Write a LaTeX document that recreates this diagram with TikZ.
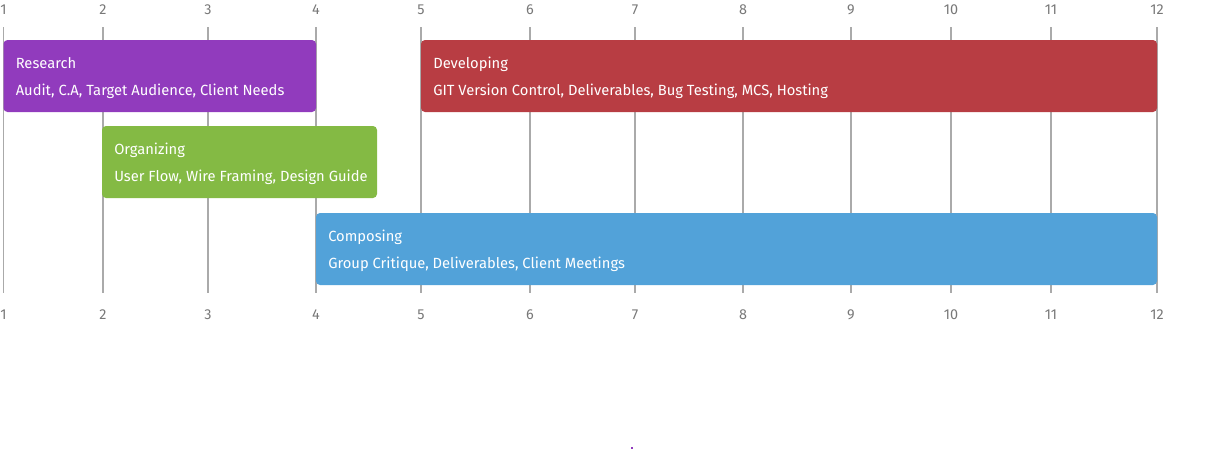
\documentclass[tikz,border=0pt]{standalone}
\usepackage{fontspec}
\setmainfont{Fira Sans}
\usepackage{xcolor}
\definecolor{colorResearch}{RGB}{145,59,189}
\definecolor{colorOrganize}{RGB}{132,186,68}
\definecolor{colorDevelop}{RGB}{184,61,67}
\definecolor{colorCompose}{RGB}{82,162,217}
\definecolor{colorGrid}{RGB}{170,170,170}
\definecolor{colorTick}{RGB}{120,120,120}
\usetikzlibrary{positioning}
\tikzset{
  phase/.style={anchor=north west, rounded corners=3, inner sep=0pt, outer sep=0pt},
  title/.style={anchor=base west, text=white, inner sep=0pt, font=\fontsize{11.05}{12}\selectfont},
  tick/.style={text=colorTick, inner sep=0pt, font=\fontsize{10.8}{12}\selectfont},
}

\begin{document}
\begin{tikzpicture}[x=0.75pt, y=-0.75pt]
\useasboundingbox (0,0) rectangle (1207,450);
\foreach \m/\x in {1/3.5,2/103,3/208,4/316,5/421,6/530,7/635,8/743,9/851,10/951,11/1051,12/1157}{
  \draw[colorGrid, line width=0.9pt] (\x,27) -- (\x,293);
  \node[tick] (top\m) at (\x,10) {\m};
  \node[tick] (bot\m) at (\x,315) {\m};
}
\node[phase, fill=colorResearch, minimum width=312.5*0.75pt, minimum height=72*0.75pt] (res) at (3.5,40) {};
\node[phase, fill=colorDevelop, minimum width=736*0.75pt, minimum height=72*0.75pt] (dev) at (421,40) {};
\node[phase, fill=colorOrganize, minimum width=275*0.75pt, minimum height=72*0.75pt] (org) at (102,126) {};
\node[phase, fill=colorCompose, minimum width=841*0.75pt, minimum height=72*0.75pt] (com) at (316,213) {};
\foreach \p/\t/\s in {res/Research/{Audit, C.A, Target Audience, Client Needs},
  dev/Developing/{GIT Version Control, Deliverables, Bug Testing, MCS, Hosting},
  org/Organizing/{User Flow, Wire Framing, Design Guide},
  com/Composing/{Group Critique, Deliverables, Client Meetings}}{
  \node[title] (\p title) at ([shift={(12,28.5)}]\p.north west) {\t};
  \node[title] (\p text) at ([shift={(12,55.5)}]\p.north west) {\s};
}
\fill[colorResearch] (631,447) rectangle (633,449);
\end{tikzpicture}
\end{document}
